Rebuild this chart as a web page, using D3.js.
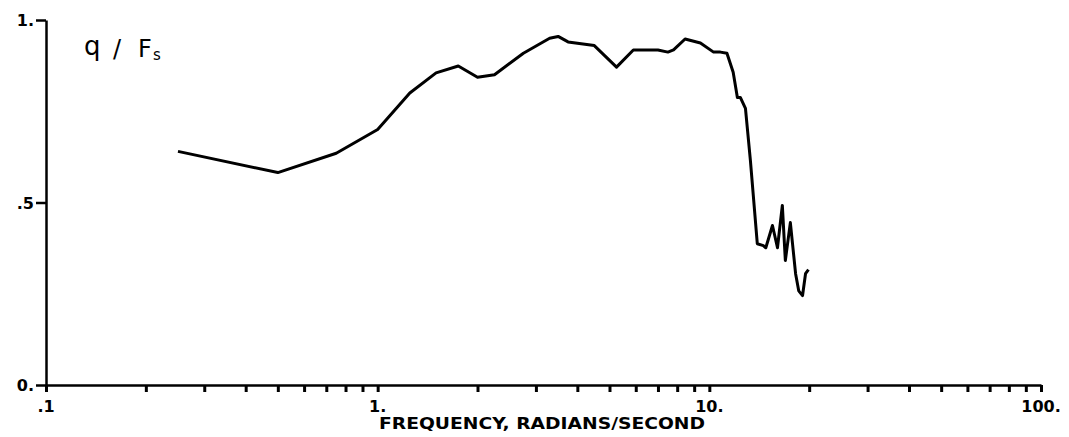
<!DOCTYPE html>
<html>
<head>
<meta charset="utf-8">
<script src="https://cdn.jsdelivr.net/npm/d3@7"></script>
<style>
  body { margin: 0; background: #fff; }
  svg { display: block; }
</style>
</head>
<body>
<div id="chart"></div>
<script>
// frequency, radians/second
const freq = [
    0.25, 0.5, 0.75, 1.0, 1.25, 1.5, 1.75, 2.0, 2.25, 2.75, 3.3, 3.5, 3.75,
    4.5, 5.25, 5.9, 7.0, 7.5, 7.8, 8.45, 9.4, 10.3, 10.8, 11.3, 11.8, 12.15, 12.4,
    12.85, 13.3, 13.95, 14.55, 14.8, 15.5, 16.05, 16.6, 16.95, 17.55, 18.2, 18.6,
    19.1, 19.5, 19.9
]
// q / Fs
const ratio = [
    0.64, 0.582, 0.635, 0.70, 0.80, 0.855, 0.874, 0.843, 0.85, 0.909, 0.95, 0.955, 0.94,
    0.93, 0.871, 0.918, 0.918, 0.912, 0.918, 0.948, 0.937, 0.912, 0.912, 0.909, 0.857, 0.788, 0.788,
    0.758, 0.615, 0.387, 0.382, 0.376, 0.437, 0.376, 0.492, 0.341, 0.445, 0.305, 0.258,
    0.245, 0.305, 0.316
]
const xMajor = [0.1, 1, 10, 100]
const xLabels = [".1", "1.", "10.", "100."]
const yTicks = [0, 0.5, 1]
const yLabels = ["0.", ".5", "1."]
const xTitle = "FREQUENCY, RADIANS/SECOND"

const width = 1069, height = 437

const x = d3.scaleLog([0.1, 100], [46, 1041])
const y = d3.scaleLinear([0, 1], [385, 20])

const svg = d3.select("#chart").append("svg")
    .attr("width", width)
    .attr("height", height)
    .attr("viewBox", [0, 0, width, height])

// minor ticks 2..9 of each decade
const minor = []
xMajor.slice(0, 3).forEach(d => d3.range(2, 10).forEach(k => minor.push(d * k)))

const xAxis = d3.axisBottom(x)
    .tickValues(xMajor.concat(minor))
    .tickSize(7)
    .tickSizeOuter(0)
    .tickFormat("")

svg.append("g")
    .attr("transform", `translate(0,${y(0)})`)
    .call(xAxis)
    .call(g => g.select(".domain").attr("stroke-width", 2.5))
    .call(g => g.selectAll(".tick line").attr("stroke-width", 3))

const yAxis = d3.axisLeft(y)
    .tickValues(yTicks)
    .tickSize(10)
    .tickSizeOuter(0)
    .tickFormat("")

svg.append("g")
    .attr("transform", `translate(${x(0.1)},0)`)
    .call(yAxis)
    .call(g => g.select(".domain").attr("stroke-width", 2.5))
    .call(g => g.selectAll(".tick line").attr("stroke-width", 2.5))

const labelFont = "'DejaVu Sans', sans-serif"

svg.selectAll(".xlab")
    .data(xMajor)
    .join("text")
    .attr("class", "xlab")
    .attr("x", d => x(d))
    .attr("y", 412)
    .attr("text-anchor", "middle")
    .attr("font-family", labelFont)
    .attr("font-weight", "bold")
    .attr("font-size", 16)
    .text((d, i) => xLabels[i])

svg.selectAll(".ylab")
    .data(yTicks)
    .join("text")
    .attr("class", "ylab")
    .attr("x", 34)
    .attr("y", d => y(d) + 6)
    .attr("text-anchor", "end")
    .attr("font-family", labelFont)
    .attr("font-weight", "bold")
    .attr("font-size", 16)
    .text((d, i) => yLabels[i])

svg.append("text")
    .attr("x", 379)
    .attr("y", 429)
    .attr("font-family", labelFont)
    .attr("font-weight", "bold")
    .attr("font-size", 16)
    .attr("textLength", 326)
    .attr("lengthAdjust", "spacingAndGlyphs")
    .text(xTitle)

// hand-lettered curve label
const lab = svg.append("g")
    .attr("font-family", "'DejaVu Sans', sans-serif")
lab.append("text").attr("x", 84).attr("y", 55).attr("font-size", 26).text("q")
lab.append("text").attr("x", 113).attr("y", 57).attr("font-size", 24).text("/")
lab.append("text").attr("x", 138).attr("y", 57).attr("font-size", 24).text("F")
lab.append("text").attr("x", 153).attr("y", 60).attr("font-size", 15).text("s")

const line = d3.line()
    .x(i => x(freq[i]))
    .y(i => y(ratio[i]))

svg.append("path")
    .datum(d3.range(freq.length))
    .attr("fill", "none")
    .attr("stroke", "#000")
    .attr("stroke-width", 3)
    .attr("stroke-linejoin", "round")
    .attr("d", line)
</script>
</body>
</html>
